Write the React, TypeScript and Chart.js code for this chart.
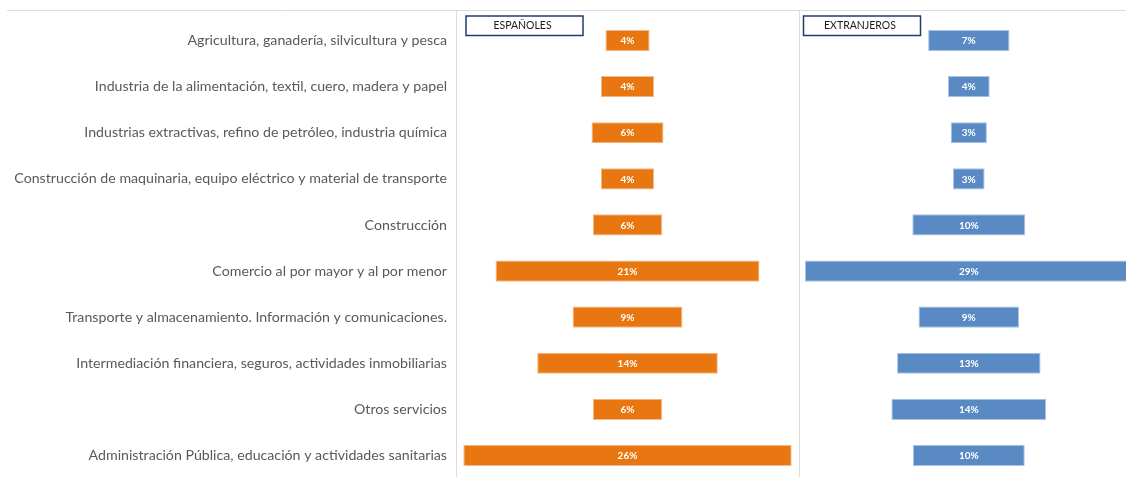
import React, { useEffect, useRef } from "react";
import { Chart, registerables } from "chart.js";

Chart.register(...registerables);

const categories = [
  "Agricultura, ganadería, silvicultura y pesca",
  "Industria de la alimentación, textil, cuero, madera y papel",
  "Industrias extractivas, refino de petróleo, industria química",
  "Construcción de maquinaria, equipo eléctrico y material de transporte",
  "Construcción",
  "Comercio al por mayor y al por menor",
  "Transporte y almacenamiento. Información y comunicaciones.",
  "Intermediación financiera, seguros, actividades inmobiliarias",
  "Otros servicios",
  "Administración Pública, educación y actividades sanitarias",
];

const espanoles = [3.5, 4.2, 5.7, 4.2, 5.5, 20.9, 8.7, 14.3, 5.5, 26.0];
const extranjeros = [7.2, 3.7, 3.2, 2.8, 10.0, 29.0, 8.9, 12.7, 13.7, 9.9];

const panelTitles = ["ESPAÑOLES", "EXTRANJEROS"];

const FONT = "Lato, 'Open Sans', sans-serif";

const centered = (vals: number[]) => vals.map((v) => [-v / 2, v / 2]);

const valueLabels = {
  id: "valueLabels",
  afterDatasetsDraw(chart: any) {
    const ctx = chart.ctx;
    ctx.save();
    ctx.font = `bold 10px ${FONT}`;
    ctx.fillStyle = "#ffffff";
    ctx.textAlign = "center";
    ctx.textBaseline = "middle";
    const a = chart.chartArea;
    ctx.beginPath();
    ctx.rect(a.left, a.top, a.right - a.left, a.bottom - a.top);
    ctx.clip();
    chart.data.datasets.forEach((ds: any, di: number) => {
      const meta = chart.getDatasetMeta(di);
      meta.data.forEach((el: any, i: number) => {
        const r = ds.data[i];
        const v = r[1] - r[0];
        const cx = (el.x + el.base) / 2;
        ctx.fillText(Math.round(v) + "%", cx, el.y + 0.5);
      });
    });
    ctx.restore();
  },
};

const frame = {
  id: "frame",
  beforeDraw(chart: any) {
    const ctx = chart.ctx;
    ctx.save();
    ctx.strokeStyle = "#dcdcdc";
    ctx.lineWidth = 1;
    ctx.beginPath();
    ctx.moveTo(7, 10.5);
    ctx.lineTo(chart.width, 10.5);
    ctx.moveTo(456.5, 10);
    ctx.lineTo(456.5, chart.height);
    ctx.moveTo(799.5, 10);
    ctx.lineTo(799.5, chart.height);
    ctx.stroke();
    ctx.restore();
  },
  afterDraw(chart: any) {
    const ctx = chart.ctx;
    ctx.save();
    const boxes = [
      { x: 466, w: 117 },
      { x: 803.5, w: 117 },
    ];
    boxes.forEach((b, i) => {
      ctx.fillStyle = "#ffffff";
      ctx.fillRect(b.x, 16, b.w, 19.5);
      ctx.strokeStyle = "#1f3b73";
      ctx.lineWidth = 1.5;
      ctx.strokeRect(b.x, 16, b.w, 19.5);
      ctx.fillStyle = "#1a1a1a";
      ctx.font = `10.5px ${FONT}`;
      ctx.textAlign = "center";
      ctx.textBaseline = "middle";
      ctx.fillText(panelTitles[i], b.x + b.w / 2 - 2, 26);
    });
    ctx.restore();
  },
};

function labelFontSize(): number {
  const c = document.createElement("canvas").getContext("2d");
  if (!c) return 13;
  c.font = `100px ${FONT}`;
  const w = c.measureText(categories[3]).width;
  return Math.round((100 * 434 / w) * 10) / 10;
}

export default function App() {
  const ref = useRef<HTMLCanvasElement>(null);

  useEffect(() => {
    if (!ref.current) return;
    const fs = labelFontSize();
    const chart = new Chart(ref.current, {
      type: "bar",
      data: {
        labels: categories,
        datasets: [
          {
            label: panelTitles[0],
            data: centered(espanoles) as any,
            xAxisID: "x",
            backgroundColor: "#e87712",
            borderColor: "#f3b98a",
            borderWidth: 1,
            borderSkipped: false,
            grouped: false,
            barPercentage: 0.46,
            categoryPercentage: 1,
          },
          {
            label: panelTitles[1],
            data: centered(extranjeros) as any,
            xAxisID: "x2",
            backgroundColor: "#5a8ac4",
            borderColor: "#a9c4e6",
            borderWidth: 1,
            borderSkipped: false,
            grouped: false,
            barPercentage: 0.46,
            categoryPercentage: 1,
          },
        ],
      },
      options: {
        indexAxis: "y",
        animation: false,
        responsive: false,
        events: [],
        layout: { padding: { top: 17, bottom: 0, left: 0, right: 0 } },
        plugins: {
          legend: { display: false },
          tooltip: { enabled: false },
          title: { display: false },
        },
        scales: {
          x: {
            type: "linear",
            display: false,
            min: -13.58,
            max: 39.47,
          },
          x2: {
            type: "linear",
            display: false,
            min: -45.38,
            max: 13.91,
          },
          y: {
            type: "category",
            position: "left",
            afterFit: (s: any) => {
              s.width = 456;
            },
            grid: { display: false, drawTicks: false },
            border: { display: false },
            ticks: {
              autoSkip: false,
              padding: 9,
              color: "#595959",
              font: { family: FONT, size: fs },
            },
          },
        },
      },
      plugins: [frame, valueLabels],
    });
    return () => chart.destroy();
  }, []);

  return (
    <div
      style={{
        position: "fixed",
        left: 0,
        top: 0,
        width: 1126,
        height: 477,
        overflow: "hidden",
        background: "#ffffff",
      }}
    >
      <canvas ref={ref} width={1126} height={496} style={{ display: "block" }} />
    </div>
  );
}
